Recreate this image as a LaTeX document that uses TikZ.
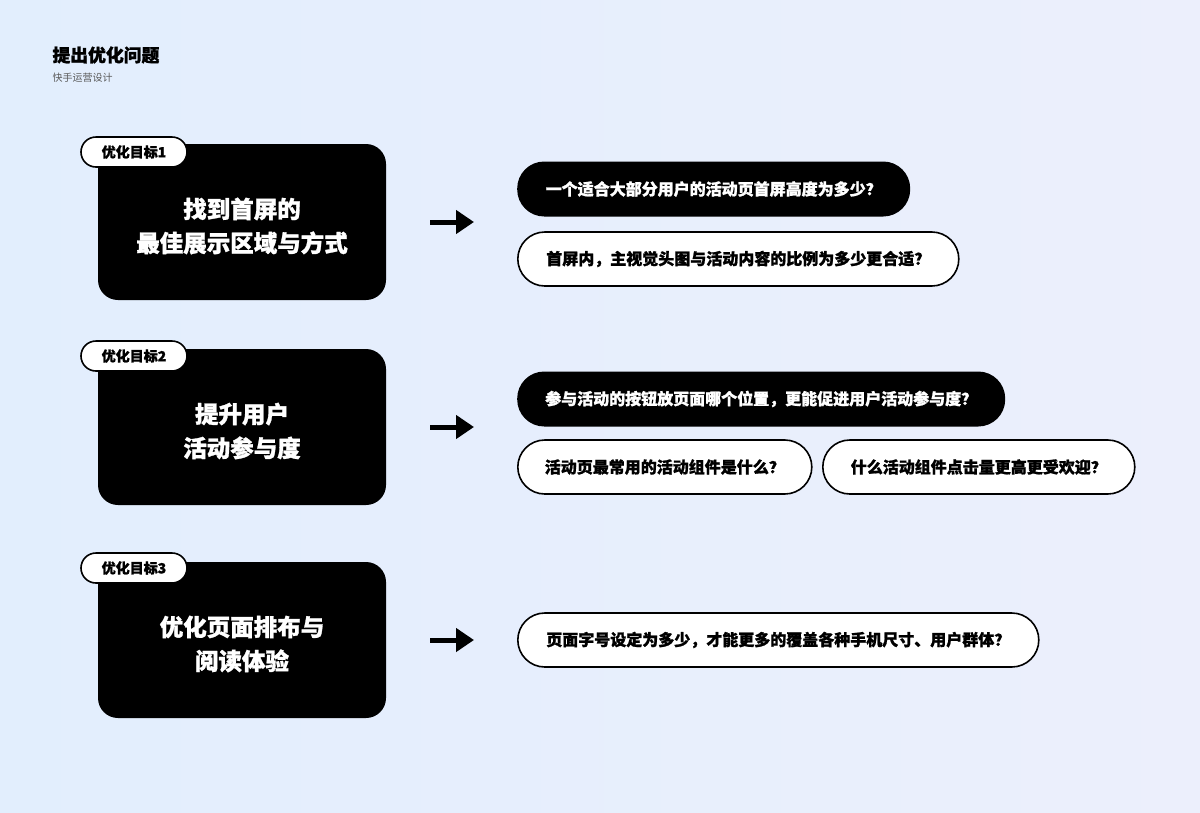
\documentclass[tikz,border=0pt]{standalone}
\usepackage{fontspec}
\usetikzlibrary{arrows.meta}
\newfontfamily\cjk{Noto Sans CJK SC}[BoldFeatures={FakeBold=1.2}]
\definecolor{bgleft}{RGB}{226,238,253}
\definecolor{bgright}{RGB}{236,239,252}
\definecolor{subgray}{RGB}{90,90,90}
\tikzset{
  goalbox/.style={fill=black,rounded corners=20pt,minimum width=288pt,minimum height=156pt},
  goaltext/.style={text=white,align=center,yshift=-4pt,font=\cjk\bfseries\fontsize{23.5}{34}\selectfont},
  goaltag/.style={fill=white,draw=black,line width=1.6pt,rounded corners=15pt,
    minimum width=106pt,minimum height=30pt,font=\cjk\bfseries\fontsize{14}{16}\selectfont},
  qdark/.style={fill=black,text=white,rounded corners=27pt,minimum height=55pt,anchor=west,
    font=\cjk\bfseries\fontsize{16}{19}\selectfont,minimum width=#1},
  qlight/.style={fill=white,draw=black,line width=1.6pt,rounded corners=27pt,minimum height=54pt,anchor=west,
    font=\cjk\bfseries\fontsize{16}{19}\selectfont,minimum width=#1},
  pointer/.style={line width=5pt,-{Triangle[length=18pt,width=23pt]}},
}
\begin{document}
\begin{tikzpicture}[x=1pt,y=-1pt]
	\shade[left color=bgleft,right color=bgright] (0,0) rectangle (1200,812);
	\useasboundingbox (0,0) rectangle (1200,812);
	\node[anchor=west,font=\cjk\bfseries\fontsize{17.8}{20}\selectfont] (title) at (49,55) {提出优化问题};
	\node[anchor=west,text=subgray,font=\cjk\fontsize{10}{12}\selectfont] (subtitle) at (49,78) {快手运营设计};
	% goals
	\node[goalbox] (g1) at (242,222) {};
	\node[goaltext] (g1t) at (g1.center) {找到首屏的\\最佳展示区域与方式};
	\node[goaltag] (t1) at (134,152) {优化目标1};
	\node[goalbox] (g2) at (242,427) {};
	\node[goaltext] (g2t) at (g2.center) {提升用户\\活动参与度};
	\node[goaltag] (t2) at (134,356) {优化目标2};
	\node[goalbox] (g3) at (242,640) {};
	\node[goaltext] (g3t) at (g3.center) {优化页面排布与\\阅读体验};
	\node[goaltag] (t3) at (134,568) {优化目标3};
	% arrows
	\coordinate (a1s) at (430,222); \coordinate (a1e) at (474,222);
	\coordinate (a2s) at (430,427); \coordinate (a2e) at (474,427);
	\coordinate (a3s) at (430,640); \coordinate (a3e) at (474,640);
	\draw[pointer] (a1s) -- (a1e);
	\draw[pointer] (a2s) -- (a2e);
	\draw[pointer] (a3s) -- (a3e);
	% questions
	\node[qdark=393pt] (q1a) at (517,189) {一个适合大部分用户的活动页首屏高度为多少？};
	\node[qlight=441pt] (q1b) at (517,259) {首屏内，主视觉头图与活动内容的比例为多少更合适？};
	\node[qdark=488pt] (q2a) at (517,399) {参与活动的按钮放页面哪个位置，更能促进用户活动参与度？};
	\node[qlight=294pt] (q2b) at (517,467) {活动页最常用的活动组件是什么？};
	\node[qlight=312pt] (q2c) at (822,467) {什么活动组件点击量更高更受欢迎？};
	\node[qlight=521pt] (q3a) at (517,640) {页面字号设定为多少，才能更多的覆盖各种手机尺寸、用户群体？};
\end{tikzpicture}
\end{document}
